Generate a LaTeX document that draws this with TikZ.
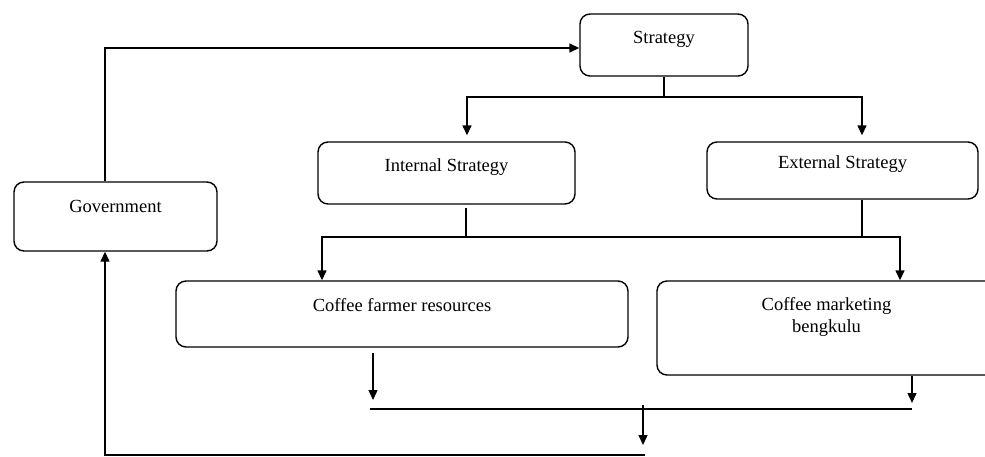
\documentclass[tikz,border=0pt]{standalone}
\usepackage{fontspec}
\setmainfont{Liberation Serif}
\usetikzlibrary{arrows.meta}

\begin{document}
\begin{tikzpicture}[x=1pt, y=-1pt, >={Triangle[length=10pt,width=9pt]},
    line width=1.4pt,
    box/.style={draw, rounded corners=10pt, inner sep=0pt},
    lbl/.style={font=\fontsize{18.5}{22}\selectfont, align=center}]
  \useasboundingbox (0,0) rectangle (985,456);
  % boxes
  \node[box, minimum width=168pt, minimum height=62pt] (strat) at (664,45) {};
  \node[box, minimum width=257pt, minimum height=62pt] (intern) at (446.5,173) {};
  \node[box, minimum width=271pt, minimum height=57pt] (extern) at (842.5,170.5) {};
  \node[box, minimum width=203pt, minimum height=69pt] (gov) at (115.5,216.5) {};
  \node[box, minimum width=452pt, minimum height=66pt] (farm) at (402,314) {};
  \node[box, minimum width=345pt, minimum height=94pt] (mkt) at (829.5,328) {};
  % texts
  \node[lbl] (strattxt) at ([yshift=-26pt]strat.north) {Strategy};
  \node[lbl] (interntxt) at ([yshift=-26pt]intern.north) {Internal Strategy};
  \node[lbl] (externtxt) at ([yshift=-23pt]extern.north) {External Strategy};
  \node[lbl] (govtxt) at ([yshift=-25pt]gov.north) {Government};
  \node[lbl] (farmtxt) at ([yshift=-25pt]farm.north) {Coffee farmer resources};
  \node[lbl] (mkttxt) at ([xshift=-3pt, yshift=-37pt]mkt.north) {Coffee marketing\\bengkulu};
  % junctions
  \coordinate (j1) at (664,97);
  \coordinate (j2a) at (466,237);
  \coordinate (j2b) at (862,237);
  \coordinate (jl) at (373,409);
  \coordinate (jr) at (912,409);
  \coordinate (jm) at (643,409);
  \coordinate (bl) at (105,455);
  \coordinate (br) at (645,455);
  % strategy to internal / external
  \draw (strat.south) -- (j1);
  \draw[->, shorten >=6pt] (j1) -| ([xshift=20.5pt]intern.north);
  \draw[->, shorten >=6pt] (j1) -| ([xshift=19.5pt]extern.north);
  % government to strategy
  \draw[->] ([xshift=-10.5pt]gov.north) |- ([yshift=-3pt]strat.west);
  % internal / external to resources
  \draw[shorten <=3pt] (intern.south -| j2a) -- (j2a);
  \draw (extern.south -| j2b) -- (j2b);
  \draw (j2a) -- (j2b);
  \draw[->] (j2a) -| ([xshift=-80pt]farm.north);
  \draw[->] (j2b) -| ([xshift=70.5pt]mkt.north);
  % resources down to the bottom line
  \draw ([xshift=-3pt]jl) -- (jr);
  \draw[->, shorten <=5pt, shorten >=9pt] (farm.south -| jl) -- (jl);
  \draw[->, shorten >=6pt] (mkt.south -| jr) -- (jr);
  \draw[->, shorten <=-4pt, shorten >=10pt] (jm) -- (jm |- bl);
  \draw[->] (br) -- (bl) -- ([xshift=-10.5pt]gov.south);
\end{tikzpicture}
\end{document}
